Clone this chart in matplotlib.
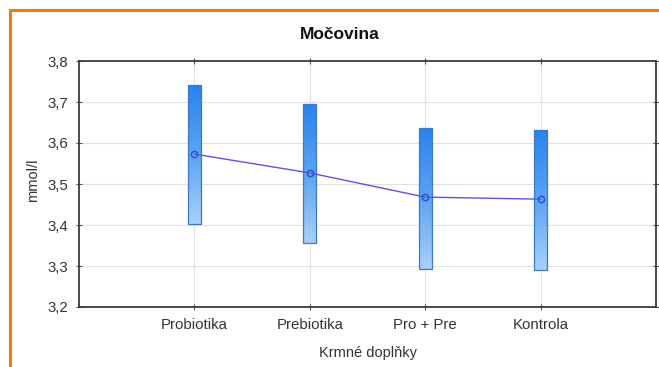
import numpy as np
import matplotlib as mpl
import matplotlib.pyplot as plt
from matplotlib.patches import Rectangle
from matplotlib.lines import Line2D

plt.rcParams['font.family'] = ['Liberation Sans', 'DejaVu Sans']

# krmne doplnky - prumer a interval spolehlivosti
skupiny = ['Probiotika', 'Prebiotika', 'Pro + Pre', 'Kontrola']
prumer = [3.573, 3.527, 3.468, 3.463]
horni = [3.741, 3.695, 3.637, 3.632]
dolni = [3.402, 3.356, 3.293, 3.290]
yticky = [3.2, 3.3, 3.4, 3.5, 3.6, 3.7, 3.8]

fig = plt.figure(figsize=(6.59, 3.67), dpi=100)
fig.patch.set_facecolor('white')

# oranzovy ramecek
fig.add_artist(Line2D([10/659, 1.0], [1-10/367, 1-10/367], color='#ec7a1c', lw=2.2,
                      transform=fig.transFigure))
fig.add_artist(Line2D([10/659, 10/659], [0.0, 1-10/367], color='#ec7a1c', lw=2.2,
                      transform=fig.transFigure))

ax = fig.add_axes([79/659, 60/367, 577/659, 246/367])
x = np.arange(1, len(skupiny)+1)

ax.set_yticks(yticky)
ax.set_yticklabels([f'{v:.1f}'.replace('.', ',') for v in yticky])
ax.set_xticks(x)
ax.set_xticklabels(skupiny)
ax.grid(True, color='#e2e2e2', lw=0.8)
ax.set_axisbelow(True)

for s in ax.spines.values():
    s.set_color('#3a3a3a')
    s.set_linewidth(1.3)
ax.tick_params(axis='both', which='both', direction='inout', length=4, width=0.8,
               color='#555555', labelsize=10.8, labelcolor='#333333',
               top=True, right=True, pad=6)

# gradient sloupce
cmap = mpl.colors.LinearSegmentedColormap.from_list('modra', ['#a9d0fa', '#5ba4f2', '#2b82ec'])
grad = np.linspace(0, 1, 256).reshape(-1, 1)
w = 0.11
for xi, lo, hi in zip(x, dolni, horni):
    im = ax.imshow(grad, cmap=cmap, origin='lower', aspect='auto',
                   extent=(xi - w/2, xi + w/2, lo, hi), zorder=2)
    r = Rectangle((xi - w/2, lo), w, hi - lo, fill=False, ec='#3f78c8', lw=0.9, zorder=3)
    ax.add_patch(r)
    im.set_clip_path(r)
ax.set_xlim(0, 5)
ax.set_ylim(3.2, 3.8)

ax.plot(x, prumer, color='#5a55e6', lw=1.0, marker='o', ms=4.5, mfc='none',
        mec='#2a4fd0', mew=1.0, zorder=4)

fig.text(0.516, 0.905, 'Močovina', ha='center', va='center', fontsize=12.5,
         fontweight='bold', color='#111111')
fig.text(0.05, 0.51, 'mmol/l', ha='center', va='center', rotation=90, fontsize=10.5,
         color='#333333')
fig.text(0.559, 0.038, 'Krmné doplňky', ha='center', va='center', fontsize=10.5,
         color='#333333')

fig.savefig('out.png', dpi=100)
